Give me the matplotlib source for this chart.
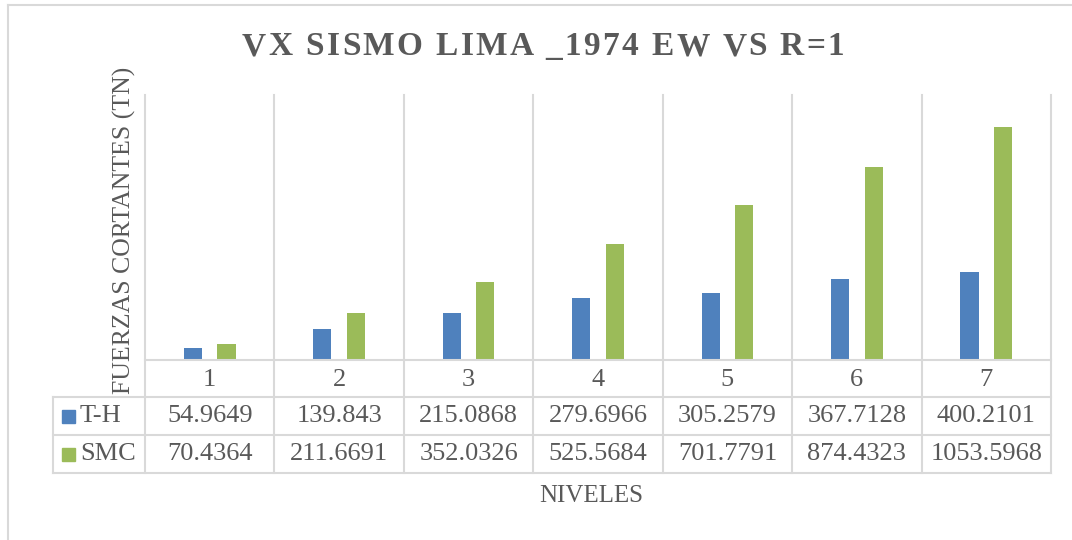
import matplotlib
matplotlib.use("Agg")
import matplotlib.pyplot as plt
from matplotlib.lines import Line2D
from matplotlib.patches import Rectangle
import numpy as np

# chart data
niveles = ["1", "2", "3", "4", "5", "6", "7"]
t_h = [54.9649, 139.843, 215.0868, 279.6966, 305.2579, 367.7128, 400.2101]
smc = [70.4364, 211.6691, 352.0326, 525.5684, 701.7791, 874.4323, 1053.5968]
series_names = ["T-H", "SMC"]
series_colors = ["#4F81BD", "#9BBB59"]

title = "VX SISMO LIMA _1974 EW VS R=1"
ylabel = "FUERZAS CORTANTES (TN)"
xlabel = "NIVELES"

W, H = 1072, 540
TEXT = "#595959"
GRID = "#D9D9D9"
plt.rcParams["font.family"] = ["Liberation Serif", "DejaVu Serif"]

fig = plt.figure(figsize=(W / 100, H / 100), dpi=100)


def fx(px):
    return px / W


def fy(py):
    return 1 - py / H


def hline(x0, x1, y):
    fig.add_artist(Line2D([fx(x0), fx(x1)], [fy(y), fy(y)], color=GRID, lw=1.5,
                          transform=fig.transFigure))


def vline(x, y0, y1):
    fig.add_artist(Line2D([fx(x), fx(x)], [fy(y0), fy(y1)], color=GRID, lw=1.5,
                          transform=fig.transFigure))


# chart border (left and top only visible)
vline(8, 5, 540)
hline(8, 1072, 5)

# plot area
left, right, top, base = 145, 1051, 95, 360
ax = fig.add_axes([fx(left), fy(base), fx(right - left), (base - top) / H])
x = np.arange(len(niveles))
bw = 0.14
ax.bar(x - 0.13, t_h, bw, color=series_colors[0], zorder=3)
ax.bar(x + 0.13, smc, bw, color=series_colors[1], zorder=3)
ax.set_xlim(-0.5, len(niveles) - 0.5)
ax.set_ylim(0, 1200)
ax.axis("off")

# data table grid
row_cat, row1, row2, row_end = 360, 397, 435, 473
key_left = 53
col_w = (right - left) / len(niveles)
hline(left, right, row_cat)
hline(key_left, right, row1)
hline(key_left, right, row2)
hline(key_left, right, row_end)
vline(key_left, row1, row_end)
for i in range(len(niveles) + 1):
    vline(left + i * col_w, top, row_end)

# table text
for i, lab in enumerate(niveles):
    cx = left + (i + 0.5) * col_w
    fig.text(fx(cx), fy(380), lab, ha="center", va="center",
             fontsize=19, color=TEXT)
    for vals, (r0, r1) in ((t_h, (row1, row2)), (smc, (row2, row_end))):
        fig.text(fx(cx), fy((r0 + r1) / 2), str(vals[i]), ha="center", va="center",
                 fontsize=19, color=TEXT)

for name, color, (r0, r1) in zip(series_names, series_colors,
                                 ((row1, row2), (row2, row_end))):
    cy = (r0 + r1) / 2
    fig.add_artist(Rectangle((fx(62), fy(cy + 6.5)), fx(13), 13 / H, color=color,
                             transform=fig.transFigure))
    fig.text(fx(80), fy(cy), name, ha="left", va="center", fontsize=19, color=TEXT)

# title with letter spacing, as in the original chart
renderer = fig.canvas.get_renderer()
title_kw = dict(fontsize=24, fontweight="bold", color=TEXT, va="baseline")
spacing = 2.4
probe = fig.text(0, 0, title, **title_kw)
full_w = probe.get_window_extent(renderer).width
probe.remove()
x0 = 543 - (full_w + spacing * (len(title) - 1)) / 2
for i, ch in enumerate(title):
    if i:
        p = fig.text(0, 0, title[:i], **title_kw)
        off = p.get_window_extent(renderer).width
        p.remove()
    else:
        off = 0
    fig.text(fx(x0 + off + i * spacing), fy(55), ch, ha="left", **title_kw)

fig.text(fx(124), fy(230), ylabel, ha="center", va="center", rotation=90,
         fontsize=18.5, color=TEXT)
fig.text(fx(591), fy(496), xlabel, ha="center", va="center", fontsize=18, color=TEXT)

fig.savefig("out.png", dpi=100)
